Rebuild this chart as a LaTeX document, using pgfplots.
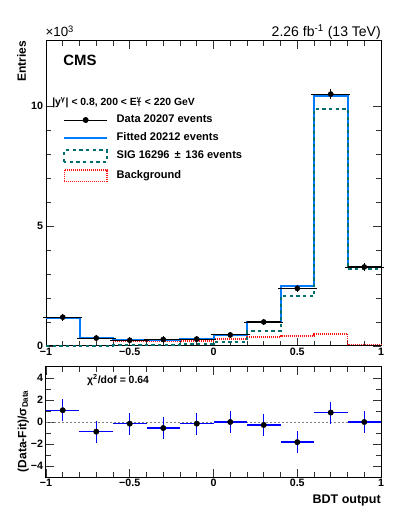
\documentclass[border=0pt]{standalone}
\usepackage{fontspec}
\setmainfont{Liberation Sans}
\usepackage{pgfplots}
\pgfplotsset{compat=1.18}
\usepackage{pgfplotstable}

\definecolor{fitcol}{RGB}{0,122,255}
\definecolor{sigcol}{RGB}{0,110,110}
\definecolor{bkgcol}{RGB}{255,20,20}

% bin left edge, value (x10^3); last row repeats the final bin at x=1
\pgfplotstableread{
x     fit    sig    bkg
-1.0  1.163  0.005  1.16
-0.8  0.346  0.020  0.33
-0.6  0.260  0.040  0.22
-0.4  0.260  0.060  0.20
-0.2  0.310  0.100  0.21
 0.0  0.470  0.180  0.28
 0.2  1.010  0.620  0.38
 0.4  2.490  2.080  0.42
 0.6  10.43  9.880  0.51
 0.8  3.290  3.200  0.07
 1.0  3.290  3.200  0.07
}\histos

% bin centre, data (x10^3), stat. error
\pgfplotstableread{
x     y      ey
-0.9  1.200  0.035
-0.7  0.330  0.018
-0.5  0.240  0.015
-0.3  0.270  0.016
-0.1  0.290  0.017
 0.1  0.460  0.021
 0.3  1.000  0.032
 0.5  2.400  0.049
 0.7  10.49  0.102
 0.9  3.290  0.057
}\datatab

% pulls
\pgfplotstableread{
x     p
-0.9   1.07
-0.7  -0.88
-0.5  -0.15
-0.3  -0.55
-0.1  -0.15
 0.1   0.00
 0.3  -0.27
 0.5  -1.83
 0.7   0.86
 0.9   0.00
}\pulls

\pgfplotsset{
  rootstyle/.style={
    scale only axis,
    width=251.25pt,
    xmin=-1, xmax=1,
    axis line style={line width=0.75pt},
    tick align=inside,
    major tick length=6pt,
    minor tick length=3.5pt,
    every tick/.style={line width=0.5pt, black!80},
    xtick={-1,-0.5,0,0.5,1},
    xticklabels={−1,−0.5,0,0.5,1},
    minor x tick num=4,
    tick label style={font=\bfseries\fontsize{8}{9}\selectfont},
    xticklabel style={inner sep=0pt, yshift=-1.5pt},
    yticklabel style={inner sep=0pt, xshift=-2pt},
    clip=false,
  },
  dataleg/.style={legend image code/.code={%
    \draw[mark repeat=2,mark phase=2,##1] plot coordinates {(0pt,0pt) (16pt,0pt) (32pt,0pt)};}},
  lineleg/.style={legend image code/.code={\draw[##1] (0pt,0pt) -- (32pt,0pt);}},
  boxleg/.style={legend image code/.code={\draw[##1] (0pt,-4.4pt) rectangle (32pt,4.4pt);}},
}

\begin{document}
\begin{tikzpicture}
\begin{axis}[
  rootstyle,
  height=228.75pt,
  ymin=0, ymax=12.7,
  ytick={0,5,10},
  yticklabels={0,5,10},
  minor y tick num=4,
  legend style={at={(axis description cs:0.051,0.761)}, anchor=north west,
    draw=none, fill=none, inner sep=0pt, row sep=4.4pt,
    font=\bfseries\fontsize{8.3}{9}\selectfont,
    nodes={inner sep=0pt, text height=6.3pt, text depth=2.5pt},
    /tikz/every odd column/.append style={column sep=6.5pt}},
  legend cell align=left,
]
\addlegendimage{black, line width=0.6pt, mark=*, mark size=1.9pt, dataleg}
\addlegendentry{Data 20207 events}
\addlegendimage{fitcol, line width=1.5pt, lineleg}
\addlegendentry{Fitted 20212 events}
\addlegendimage{sigcol, line width=1.5pt, dash pattern=on 2.5pt off 2.5pt, boxleg}
\addlegendentry{SIG 16296 \,±\, 136 events}
\addlegendimage{bkgcol, line width=1.2pt, dash pattern=on 0.75pt off 0.75pt, boxleg}
\addlegendentry{Background}

\addplot[forget plot, const plot, bkgcol, line width=1.2pt, dash pattern=on 0.75pt off 0.75pt]
  table[x=x, y=bkg] {\histos};
\addplot[forget plot, const plot, fitcol, line width=1.5pt]
  table[x=x, y=fit] {\histos};
\addplot[forget plot, const plot, sigcol, line width=1.5pt, dash pattern=on 2.5pt off 2.5pt]
  table[x=x, y=sig] {\histos};
\addplot[forget plot, only marks, black, mark=*, mark size=1.9pt,
  error bars/.cd, x dir=both, x fixed=0.1, y dir=both, y explicit,
  error bar style={line width=0.8pt, black},
  error mark options={line width=0.7pt, mark size=2pt}]
  table[x=x, y=y, y error=ey] {\datatab};

\node[anchor=west, inner sep=0pt, font=\bfseries\fontsize{7.8}{9}\selectfont]
  at (axis description cs:0.018,0.797)
  {|y\textsuperscript{γ}| < 0.8,\ 200 < E\rlap{\textsuperscript{γ}}\textsubscript{T} < 220 GeV};
\node[anchor=west, inner sep=0pt, font=\bfseries\fontsize{11.2}{13}\selectfont]
  at (axis description cs:0.051,0.938) {CMS};
\node[anchor=base east, inner sep=0pt, font=\fontsize{10.5}{12}\selectfont]
  at ([yshift=3.2pt]axis description cs:1,1) {2.26 fb\textsuperscript{-1} (13 TeV)};
\node[anchor=base west, inner sep=0pt, font=\fontsize{10}{12}\selectfont]
  at ([yshift=3pt, xshift=-0.5pt]axis description cs:0,1) {×10\textsuperscript{3}};
\node[rotate=90, anchor=north east, inner sep=0pt, font=\bfseries\fontsize{9}{11}\selectfont]
  at ([xshift=-21.75pt]axis description cs:0,1) {Entries};
\end{axis}

\begin{axis}[
  rootstyle,
  at={(0pt,-98.25pt)}, anchor=south west,
  height=82.5pt,
  ymin=-5, ymax=5,
  ytick={-4,-2,0,2,4},
  yticklabels={−4,−2,0,2,4},
  minor y tick num=1,
]
\addplot[gray, line width=0.5pt, dash pattern=on 1.5pt off 1.5pt] coordinates {(-1,0) (1,0)};
\addplot[only marks, mark=none,
  error bars/.cd, x dir=both, x fixed=0.1, y dir=both, y fixed=1,
  error bar style={line width=1pt, blue}, error mark=none]
  table[x=x, y=p] {\pulls};
\node[anchor=west, inner sep=0pt, font=\bfseries\fontsize{7.8}{9}\selectfont]
  at (axis description cs:0.122,0.88) {χ\textsuperscript{2}/dof = 0.64};
\node[anchor=base east, inner sep=0pt, font=\bfseries\fontsize{9.4}{11}\selectfont]
  at ([yshift=-19.5pt]axis description cs:1,0) {BDT output};
\node[rotate=90, anchor=center, inner sep=0pt, font=\bfseries\fontsize{9}{11}\selectfont]
  at ([xshift=-17pt]axis description cs:0,0.418) {(Data-Fit)/σ\textsubscript{Data}};
\end{axis}

\pgfresetboundingbox
\path (-34.5pt,-127.5pt) rectangle (264.75pt,259.5pt);
\end{tikzpicture}
\end{document}
